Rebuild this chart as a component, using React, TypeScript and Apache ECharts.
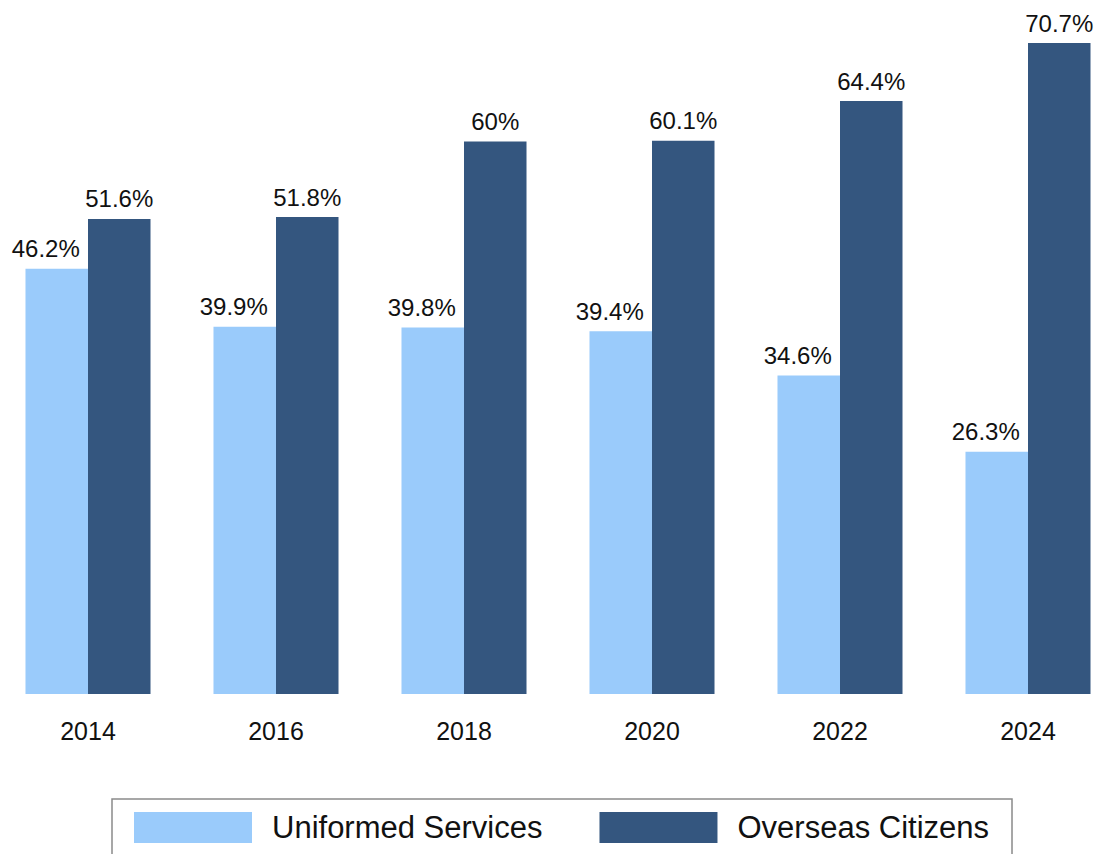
import React, { useEffect, useRef } from "react";
import * as echarts from "echarts";

const categories = ["2014", "2016", "2018", "2020", "2022", "2024"];
const uniformedServices = [46.2, 39.9, 39.8, 39.4, 34.6, 26.3];
const overseasCitizens = [51.6, 51.8, 60, 60.1, 64.4, 70.7];
const seriesNames = ["Uniformed Services", "Overseas Citizens"];

const FONT = "'Liberation Sans', Arial, sans-serif";
const SHIFT = 6;

export default function App() {
  const ref = useRef<HTMLDivElement>(null);
  useEffect(() => {
    if (!ref.current) return;
    const chart = echarts.init(ref.current, null, { renderer: "svg" });
    const labelFmt = (p: any) => `${p.value}%`;
    chart.setOption({
      animation: false,
      backgroundColor: "#ffffff",
      textStyle: { fontFamily: FONT },
      grid: { left: 0, right: 0, top: 3.5, bottom: 160, containLabel: false },
      xAxis: {
        type: "category",
        data: categories,
        axisLine: { show: false },
        axisTick: { show: false },
        axisLabel: { color: "#111", fontSize: 25, fontFamily: FONT, margin: 24 },
      },
      yAxis: {
        type: "value",
        min: 0,
        max: 75,
        show: false,
        splitLine: { show: false },
      },
      legend: {
        left: 112 + SHIFT,
        top: 799,
        orient: "horizontal",
        itemWidth: 118,
        itemHeight: 31,
        itemGap: 57,
        padding: [13, 23, 13, 22],
        borderColor: "#8a8a8a",
        borderWidth: 1.5,
        icon: "rect",
        selectedMode: false,
        textStyle: { fontSize: 31, color: "#111", fontFamily: FONT, padding: [0, 0, 0, 15] },
        data: seriesNames,
      },
      series: [
        {
          name: seriesNames[0],
          type: "bar",
          data: uniformedServices,
          barGap: "0%",
          barCategoryGap: "33.5%",
          itemStyle: { color: "#9ACBFB" },
          label: {
            show: true,
            position: "top",
            distance: 8,
            offset: [-11, 0],
            formatter: labelFmt,
            fontSize: 24,
            color: "#111",
            fontFamily: FONT,
          },
        },
        {
          name: seriesNames[1],
          type: "bar",
          data: overseasCitizens,
          barGap: "0%",
          barCategoryGap: "33.5%",
          itemStyle: { color: "#34567F" },
          label: {
            show: true,
            position: "top",
            distance: 8,
            formatter: labelFmt,
            fontSize: 24,
            color: "#111",
            fontFamily: FONT,
          },
        },
      ],
    });
    return () => chart.dispose();
  }, []);
  return (
    <div
      style={{
        position: "absolute",
        left: 0,
        top: 0,
        width: 1098,
        height: 854,
        overflow: "hidden",
        background: "#fff",
      }}
    >
      <div
        ref={ref}
        style={{ position: "absolute", left: -SHIFT, top: 0, width: 1128, height: 854 }}
      />
    </div>
  );
}
